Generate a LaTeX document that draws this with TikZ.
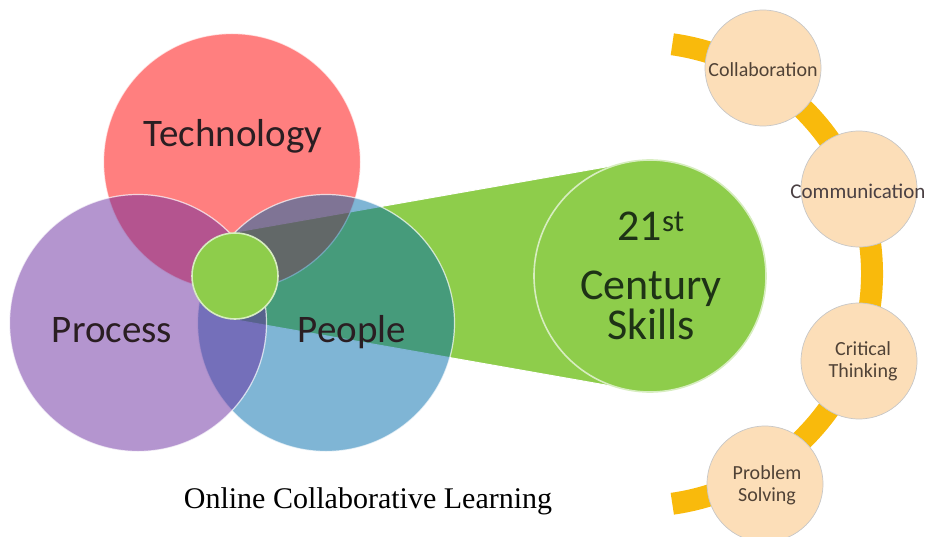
\documentclass[tikz,border=0pt]{standalone}
\usepackage{fontspec}
\setmainfont{Liberation Serif}
\newfontfamily\skillfont{Carlito}
\usepackage{tikz}
\usetikzlibrary{backgrounds}
\definecolor{techred}{RGB}{255,0,0}
\definecolor{procpurple}{RGB}{105,43,159}
\definecolor{peopleblue}{RGB}{0,107,171}
\definecolor{leafgreen}{RGB}{142,205,75}
\definecolor{peach}{RGB}{252,222,184}
\definecolor{gold}{RGB}{249,186,12}
\definecolor{ink}{RGB}{42,30,34}
\definecolor{leafink}{RGB}{30,50,22}
\definecolor{peachink}{RGB}{80,66,54}
\tikzstyle{venn} = [circle, draw=white, draw opacity=0.7, line width=1.2pt, fill opacity=0.5, minimum size=257pt, inner sep=0pt]
\tikzstyle{vennlbl} = [anchor=base, text=ink, font=\skillfont\fontsize{39}{44}\selectfont]
\tikzstyle{hubcircle} = [circle, fill=leafgreen, draw=white!65!leafgreen, line width=1.6pt, inner sep=0pt]
\tikzstyle{skill} = [circle, fill=peach, draw=black!22, line width=0.7pt, minimum size=116pt, inner sep=0pt]
\tikzstyle{skilllbl} = [align=center, text=peachink, font=\skillfont\fontsize{20}{22}\selectfont]

\begin{document}
\begin{tikzpicture}[x=1pt, y=-1pt]
	\useasboundingbox (0,0) rectangle (928,537);
	% venn of the three circles
	\node[venn, fill=techred] (tech) at (232,162) {};
	\node[venn, fill=peopleblue] (peop) at (326,323) {};
	\node[venn, fill=procpurple] (proc) at (138,323) {};
	\node[vennlbl] (techlbl) at (233,147) {Technology};
	\node[vennlbl] (proclbl) at (112,342) {Process};
	\node[vennlbl] (peoplbl) at (352,342) {People};
	\node[hubcircle, minimum size=86pt] (core) at (235,276) {};
	\node[hubcircle, minimum size=232pt] (skills) at (650,276) {};
	\node[align=center, text=leafink, font=\skillfont\fontsize{44}{40}\selectfont]
		(skillslbl) at (651,276) {21\textsuperscript{st}\\[19pt]Century\\Skills};
	\begin{scope}[on background layer]
		\filldraw[fill=leafgreen, draw=white, line width=1pt]
			(core.north) -- (skills.north) -- (skills.south) -- (core.south) -- cycle;
	\end{scope}
	% ring of skills
	\coordinate (ring) at (640,274);
	\draw[gold, line width=22pt] (ring) ++(-82:232) arc[start angle=-82, end angle=82, radius=232];
	\foreach \name/\x/\y in {coll/763/68, comm/859/189, crit/859/361, prob/765/484}
		\node[skill] (\name) at (\x,\y) {};
	\node[skilllbl] (colllbl) at (763,70) {Collaboration};
	\node[skilllbl, text=ink!85, font=\skillfont\fontsize{21}{22}\selectfont] (commlbl) at (858,191) {Communication};
	\node[skilllbl] (critlbl) at (863,361) {Critical\\Thinking};
	\node[skilllbl] (problbl) at (767,485) {Problem\\Solving};
	\node[anchor=base, font=\fontsize{30}{33}\selectfont] (caption) at (368,508) {Online Collaborative Learning};
\end{tikzpicture}
\end{document}
